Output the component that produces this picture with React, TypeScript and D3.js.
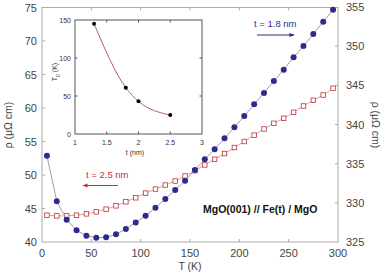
import { useEffect, useRef } from "react";
import * as d3 from "d3";

// main panel: T (K) vs resistivity
const temps = [5, 15, 25, 35, 45, 55, 65, 75, 85, 95, 105, 115, 125, 135, 145, 155, 165, 175, 185, 195, 205, 215, 225, 235, 245, 255, 265, 275, 285, 295];
// t = 1.8 nm, right axis
const rho18 = [336.0, 330.2, 327.85, 326.5, 325.8, 325.55, 325.6, 325.98, 326.66, 327.5, 328.36, 329.38, 330.49, 331.64, 332.82, 334.19, 335.56, 336.83, 338.24, 339.64, 341.08, 342.58, 344.02, 345.55, 347.0, 348.58, 350.02, 351.55, 353.12, 354.66];
// t = 2.5 nm, left axis
const rho25 = [44.0, 43.9, 43.9, 44.0, 44.2, 44.5, 44.9, 45.4, 46.0, 46.6, 47.3, 47.9, 48.5, 49.1, 49.85, 50.65, 51.5, 52.35, 53.2, 54.1, 55.0, 55.95, 56.87, 57.72, 58.46, 59.36, 60.3, 61.15, 61.94, 62.94];

const xTicks = [0, 50, 100, 150, 200, 250, 300];
const leftTicks = [40, 45, 50, 55, 60, 65, 70, 75];
const rightTicks = [325, 330, 335, 340, 345, 350, 355];

// inset: T0 vs thickness
const thick = [1.3, 1.8, 2.0, 2.5];
const t0 = [145, 61, 43, 25];
const insetXTicks = [1, 1.5, 2, 2.5, 3];
const insetYTicks = [0, 50, 100, 150];

const FONT = "'Liberation Sans', Arial, sans-serif";
const BLUE = "#2e2c8a";
const RED = "#c22f3a";

export default function App() {
  const ref = useRef<SVGSVGElement | null>(null);

  useEffect(() => {
    const svg = d3.select(ref.current);
    svg.selectAll("*").remove();

    const x = d3.scaleLinear().domain([0, 300]).range([42, 338]);
    const yL = d3.scaleLinear().domain([40, 75]).range([242, 7.5]);
    const yR = d3.scaleLinear().domain([325, 355]).range([242, 7]);

    const g = svg.append("g").style("font-family", FONT);

    // frame
    g.append("rect")
      .attr("x", x(0)).attr("y", yL(75))
      .attr("width", x(300) - x(0)).attr("height", yL(40) - yL(75))
      .attr("fill", "none").attr("stroke", "#aaa").attr("stroke-width", 1);

    // ticks (inward)
    xTicks.slice(1, -1).forEach(v => {
      g.append("line").attr("x1", x(v)).attr("x2", x(v)).attr("y1", yL(40)).attr("y2", yL(40) - 3).attr("stroke", "#aaa");
      g.append("line").attr("x1", x(v)).attr("x2", x(v)).attr("y1", yL(75)).attr("y2", yL(75) + 3).attr("stroke", "#aaa");
    });
    leftTicks.slice(1, -1).forEach(v => {
      g.append("line").attr("x1", x(0)).attr("x2", x(0) + 3).attr("y1", yL(v)).attr("y2", yL(v)).attr("stroke", "#aaa");
    });
    rightTicks.slice(1, -1).forEach(v => {
      g.append("line").attr("x1", x(300)).attr("x2", x(300) - 3).attr("y1", yR(v)).attr("y2", yR(v)).attr("stroke", "#aaa");
    });

    // tick labels
    g.selectAll(".xl").data(xTicks).enter().append("text")
      .attr("x", d => x(d)).attr("y", 257)
      .attr("text-anchor", "middle").attr("font-size", 11).attr("fill", "#444")
      .text(d => d);
    g.selectAll(".yl").data(leftTicks).enter().append("text")
      .attr("x", 37).attr("y", d => yL(d) + 4)
      .attr("text-anchor", "end").attr("font-size", 11).attr("fill", "#444")
      .text(d => d);
    g.selectAll(".yr").data(rightTicks).enter().append("text")
      .attr("x", 346).attr("y", d => yR(d) + 4)
      .attr("text-anchor", "start").attr("font-size", 11).attr("fill", "#444")
      .text(d => d);

    // axis titles
    g.append("text").attr("x", x(150)).attr("y", 270)
      .attr("text-anchor", "middle").attr("font-size", 10.5).attr("fill", "#444").text("T (K)");
    g.append("text").attr("transform", "translate(12,125) rotate(-90)")
      .attr("text-anchor", "middle").attr("font-size", 10.5).attr("fill", "#444").text("ρ (μΩ cm)");
    g.append("text").attr("transform", "translate(372,125) rotate(90)")
      .attr("text-anchor", "middle").attr("font-size", 10.5).attr("fill", "#444").text("ρ (μΩ cm)");

    // t = 2.5 nm series (left axis)
    const lineL = d3.line<number>().x((_, i) => x(temps[i])).y(d => yL(d));
    g.append("path").attr("d", lineL(rho25)).attr("fill", "none").attr("stroke", "#dca0a6").attr("stroke-width", 1);
    g.selectAll(".sq").data(rho25).enter().append("rect")
      .attr("x", (_, i) => x(temps[i]) - 2.25).attr("y", d => yL(d) - 2.25)
      .attr("width", 4.5).attr("height", 4.5)
      .attr("fill", "#fff").attr("stroke", RED).attr("stroke-width", 0.8);

    // t = 1.8 nm series (right axis)
    const lineR = d3.line<number>().x((_, i) => x(temps[i])).y(d => yR(d));
    g.append("path").attr("d", lineR(rho18)).attr("fill", "none").attr("stroke", "#9d9cb4").attr("stroke-width", 1);
    g.selectAll(".ci").data(rho18).enter().append("circle")
      .attr("cx", (_, i) => x(temps[i])).attr("cy", d => yR(d)).attr("r", 3)
      .attr("fill", BLUE);

    // annotations
    const defs = svg.append("defs");
    [["ab", BLUE], ["ar", RED]].forEach(([id, c]) => {
      defs.append("marker").attr("id", id).attr("viewBox", "0 0 10 10")
        .attr("refX", 9).attr("refY", 5).attr("markerWidth", 6).attr("markerHeight", 5)
        .attr("orient", "auto-start-reverse")
        .append("path").attr("d", "M0,1 L10,5 L0,9 Z").attr("fill", c);
    });
    g.append("text").attr("x", 254).attr("y", 27).attr("font-size", 9.5).attr("fill", BLUE).text("t = 1.8 nm");
    g.append("line").attr("x1", 257).attr("x2", 294).attr("y1", 35).attr("y2", 35)
      .attr("stroke", BLUE).attr("stroke-width", 1).attr("marker-end", "url(#ab)");
    g.append("text").attr("x", 86).attr("y", 178).attr("font-size", 9.5).attr("fill", RED).text("t = 2.5 nm");
    g.append("line").attr("x1", 118).attr("x2", 83).attr("y1", 185.5).attr("y2", 185.5)
      .attr("stroke", RED).attr("stroke-width", 1).attr("marker-end", "url(#ar)");
    g.append("text").attr("x", 203).attr("y", 213).attr("font-size", 10.5).attr("font-weight", "bold")
      .attr("fill", "#111").text("MgO(001) // Fe(t) / MgO");

    // inset
    const ix = d3.scaleLinear().domain([1, 3]).range([75, 202]);
    const iy = d3.scaleLinear().domain([0, 150]).range([134, 20]);
    const ig = g.append("g");
    ig.append("rect").attr("x", ix(1)).attr("y", iy(150))
      .attr("width", ix(3) - ix(1)).attr("height", iy(0) - iy(150))
      .attr("fill", "#fff").attr("stroke", "#555").attr("stroke-width", 1);
    insetXTicks.slice(1, -1).forEach(v => {
      ig.append("line").attr("x1", ix(v)).attr("x2", ix(v)).attr("y1", iy(0)).attr("y2", iy(0) - 2.5).attr("stroke", "#555");
      ig.append("line").attr("x1", ix(v)).attr("x2", ix(v)).attr("y1", iy(150)).attr("y2", iy(150) + 2.5).attr("stroke", "#555");
    });
    insetYTicks.slice(1, -1).forEach(v => {
      ig.append("line").attr("x1", ix(1)).attr("x2", ix(1) + 2.5).attr("y1", iy(v)).attr("y2", iy(v)).attr("stroke", "#555");
      ig.append("line").attr("x1", ix(3)).attr("x2", ix(3) - 2.5).attr("y1", iy(v)).attr("y2", iy(v)).attr("stroke", "#555");
    });
    ig.selectAll(".ixl").data(insetXTicks).enter().append("text")
      .attr("x", d => ix(d)).attr("y", 145)
      .attr("text-anchor", "middle").attr("font-size", 7).attr("fill", "#333")
      .text(d => d);
    ig.selectAll(".iyl").data(insetYTicks).enter().append("text")
      .attr("x", 71).attr("y", d => iy(d) + 2.5)
      .attr("text-anchor", "end").attr("font-size", 7).attr("fill", "#333")
      .text(d => d);
    ig.append("text").attr("x", 135).attr("y", 155)
      .attr("text-anchor", "middle").attr("font-size", 7).attr("fill", "#333").text("t (nm)");
    const lab = ig.append("text").attr("transform", "translate(57,72) rotate(-90)")
      .attr("text-anchor", "middle").attr("font-size", 7).attr("fill", "#333");
    lab.append("tspan").text("T");
    lab.append("tspan").attr("baseline-shift", "sub").attr("font-size", 5).text("0");
    lab.append("tspan").text(" (K)");

    const fit = d3.line<number>().x((_, i) => ix(thick[i])).y(d => iy(d)).curve(d3.curveMonotoneX);
    ig.append("path").attr("d", fit(t0)).attr("fill", "none").attr("stroke", "#b8606a").attr("stroke-width", 1);
    ig.selectAll(".ip").data(t0).enter().append("circle")
      .attr("cx", (_, i) => ix(thick[i])).attr("cy", d => iy(d)).attr("r", 2)
      .attr("fill", "#000");
  }, []);

  return (
    <svg ref={ref} width={382} height={275}
      style={{ position: "absolute", left: 0, top: 0, background: "#fff" }} />
  );
}
